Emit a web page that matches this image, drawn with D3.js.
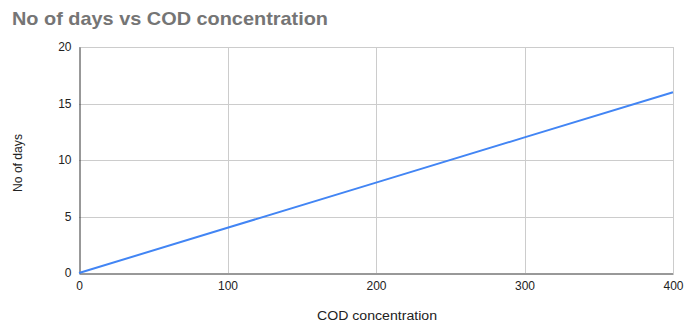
<!DOCTYPE html>
<html>
<head>
<meta charset="utf-8">
<script src="https://cdn.jsdelivr.net/npm/d3@7"></script>
<style>
  html, body { margin: 0; padding: 0; background: #fff; }
  svg { display: block; }
</style>
</head>
<body>
<svg id="chart" width="686" height="323"></svg>
<script>
// COD concentration vs number of days
const codValues = [0, 100, 200, 300, 400];
const dayValues = [0, 4, 8, 12, 16];
const xTicks = [0, 100, 200, 300, 400];
const yTicks = [0, 5, 10, 15, 20];

const W = 686, H = 323;
const margin = { left: 79, right: 13, top: 47, bottom: 50 };

const svg = d3.select("#chart");
const font = "'Liberation Sans', Arial, sans-serif";

const x = d3.scaleLinear().domain([0, 400]).range([margin.left, W - margin.right]);
const y = d3.scaleLinear().domain([0, 20]).range([H - margin.bottom, margin.top]);

// Title
svg.append("text")
  .attr("x", 12).attr("y", 25)
  .attr("font-family", font).attr("font-size", 19).attr("font-weight", "bold")
  .attr("fill", "#757575")
  .attr("textLength", 316).attr("lengthAdjust", "spacingAndGlyphs")
  .text("No of days vs COD concentration");

// Gridlines
svg.append("g").selectAll("line").data(yTicks.filter(d => d !== 0)).join("line")
  .attr("x1", x(0)).attr("x2", x(400))
  .attr("y1", d => Math.round(y(d)) + 0.5).attr("y2", d => Math.round(y(d)) + 0.5)
  .attr("stroke", "#cccccc").attr("stroke-width", 1);
svg.append("g").selectAll("line").data(xTicks.filter(d => d !== 0)).join("line")
  .attr("y1", y(0)).attr("y2", y(20))
  .attr("x1", d => Math.round(x(d)) + 0.5).attr("x2", d => Math.round(x(d)) + 0.5)
  .attr("stroke", "#cccccc").attr("stroke-width", 1);

// Axes
const xAxis = svg.append("g")
  .attr("transform", `translate(0,${Math.round(y(0)) + 0.5})`)
  .call(d3.axisBottom(x).tickValues(xTicks).tickSize(0).tickPadding(8).tickFormat(d3.format("d")));
xAxis.select(".domain").attr("stroke", "#333333");
xAxis.selectAll("text").attr("font-family", font).attr("font-size", 12).attr("fill", "#222222");

const yAxis = svg.append("g")
  .attr("transform", `translate(${Math.round(x(0)) + 0.5},0)`)
  .call(d3.axisLeft(y).tickValues(yTicks).tickSize(0).tickPadding(8).tickFormat(d3.format("d")));
yAxis.select(".domain").attr("stroke", "#333333");
yAxis.selectAll("text").attr("font-family", font).attr("font-size", 12).attr("fill", "#222222");

// Series line
const line = d3.line().x((d, i) => x(codValues[i])).y(d => y(d));
svg.append("path")
  .datum(dayValues)
  .attr("d", line)
  .attr("fill", "none")
  .attr("stroke", "#4285F4")
  .attr("stroke-width", 2);

// Axis titles
svg.append("text")
  .attr("x", 377).attr("y", 320)
  .attr("text-anchor", "middle")
  .attr("font-family", font).attr("font-size", 12.5).attr("fill", "#222222")
  .attr("textLength", 120).attr("lengthAdjust", "spacingAndGlyphs")
  .text("COD concentration");

svg.append("text")
  .attr("transform", `translate(22,${(y(0) + y(20)) / 2 + 3}) rotate(-90)`)
  .attr("text-anchor", "middle")
  .attr("font-family", font).attr("font-size", 12).attr("fill", "#222222")
  .attr("textLength", 58).attr("lengthAdjust", "spacingAndGlyphs")
  .text("No of days");
</script>
</body>
</html>
